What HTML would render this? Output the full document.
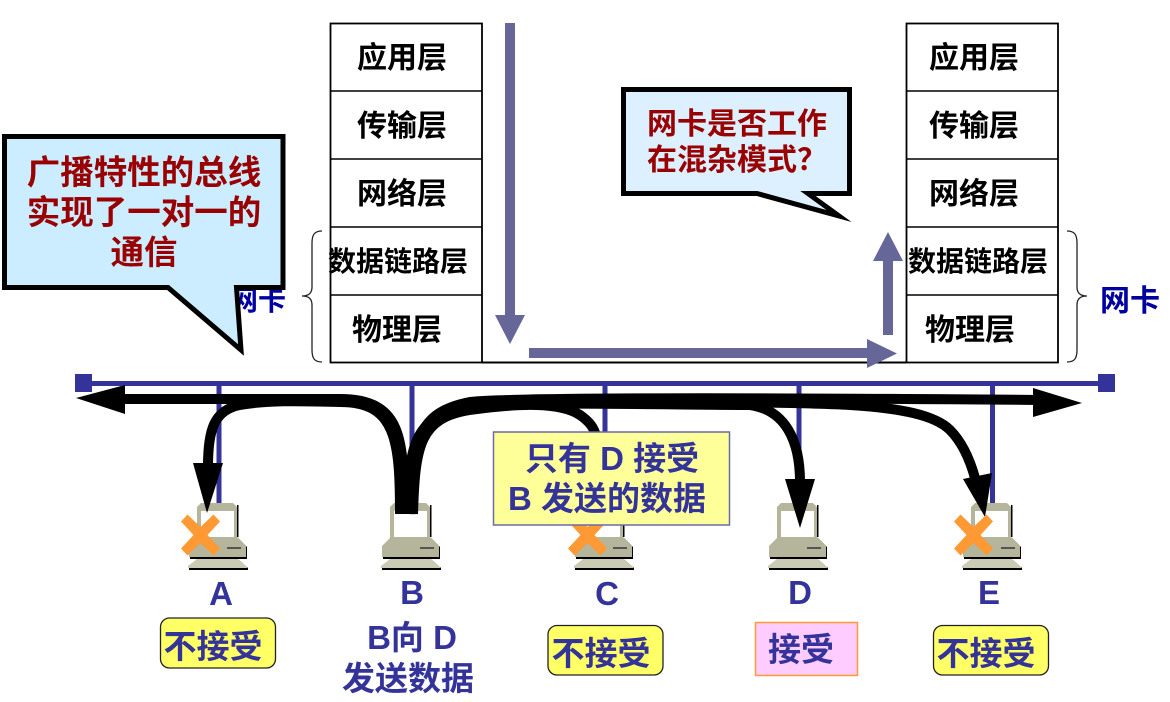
<!DOCTYPE html>
<html><head><meta charset="utf-8">
<style>
html,body{margin:0;padding:0;background:#fff;width:1170px;height:702px;overflow:hidden}
svg{display:block}
text{font-family:"Liberation Sans","Noto Sans CJK SC",sans-serif;font-weight:bold;text-anchor:middle}
.s{font-size:30px;fill:#000}
.s2{font-size:28px;fill:#000}
.n{font-size:33px;fill:#333399}
.c{font-size:33.500px;fill:#990000}
.d{font-size:30px;fill:#990000}
.l{font-size:33px;fill:#333399}
</style></head><body>
<svg width="1170" height="702" viewBox="0 0 1170 702" xmlns="http://www.w3.org/2000/svg">
<defs>
<g id="pc">
<path d="M197 507l4-4h32l4 4v33h-40z" fill="#b5b59b"/>
<rect x="201" y="511" width="33" height="26" fill="#fff"/>
<rect x="237" y="505" width="1.500" height="32" fill="#000"/>
<path d="M189 546l9-9h39l9 9v12h-57z" fill="#000" transform="translate(1,1)"/>
<path d="M189 546l9-9h39l9 9v11h-57z" fill="#b5b59b"/>
<rect x="227" y="547" width="14" height="2" fill="#555"/>
<path d="M188 566l9-7h41l9 8v2h-59z" fill="#000" transform="translate(1,1)"/>
<path d="M188 566l9-7h41l9 8v1h-59z" fill="#cbcbb5"/>
</g>
<path id="x" d="M-13 -20.500L0 -8 13 -20.500 19.500 -13.500 7 0 19.500 13.500 13 20.500 0 8 -13 20.500 -19.500 13.500 -7 0 -19.500 -13.500Z" fill="#ff9933"/>
<path id="b" d="M0 0C-7 0 -10 3 -10 12V56C-10 62 -13 65 -20 65C-13 65 -10 68 -10 74V119C-10 128 -7 131 0 131" fill="none" stroke="#222" stroke-width="1.300"/>
</defs>

<!-- left 网卡 (partly covered) -->
<text x="258" y="310" style="font-size:28px;fill:#0000a0">网卡</text>
<text x="1130" y="311" style="font-size:30px;fill:#0000a0">网卡</text>

<!-- stacks -->
<g fill="#fff" stroke="#000" stroke-width="1.800">
<rect x="330.500" y="23.500" width="151.500" height="339"/>
<rect x="906.500" y="23.500" width="151.500" height="339"/>
</g>
<g stroke="#000" stroke-width="1.500">
<path d="M330 91H482M330 159H482M330 227H482M330 295H482M906 91H1058M906 159H1058M906 227H1058M906 295H1058" fill="none"/>
<path d="M482 362.500H906" stroke-width="2" fill="none"/>
</g>
<text class="s" x="402" y="68">应用层</text>
<text class="s" x="402" y="136">传输层</text>
<text class="s" x="402" y="204">网络层</text>
<text class="s2" x="398" y="271">数据链路层</text>
<text class="s" x="397" y="340">物理层</text>
<text class="s" x="974" y="68">应用层</text>
<text class="s" x="974" y="136">传输层</text>
<text class="s" x="974" y="204">网络层</text>
<text class="s2" x="978" y="271">数据链路层</text>
<text class="s" x="970" y="340">物理层</text>

<use href="#b" x="322" y="231"/>
<use href="#b" transform="translate(1067 231) scale(-1 1)"/>

<!-- flow arrows -->
<g fill="#666699">
<path d="M505 23h10v292h10l-15 29-15-29h10z"/>
<path d="M529 348h338v-9l30 14.500-30 14.500v-10h-338z"/>
<path d="M883 335v-74h-10l15-29 15 29h-10v74z"/>
</g>

<!-- bus -->
<rect x="83" y="381" width="1024" height="5" fill="#333399"/>
<rect x="75" y="374" width="17" height="18" fill="#333399"/>
<rect x="1098" y="374" width="17" height="18" fill="#333399"/>
<g fill="#333399">
<rect x="216.500" y="384" width="5" height="120"/>
<rect x="409.500" y="384" width="5" height="120"/>
<rect x="602.500" y="384" width="5" height="120"/>
<rect x="796.500" y="384" width="5" height="120"/>
<rect x="990" y="384" width="5" height="120"/>
</g>

<!-- computers -->
<use href="#pc"/>
<use href="#pc" x="193"/>
<use href="#pc" x="386"/>
<use href="#pc" x="580"/>
<use href="#pc" x="774"/>

<!-- black arrows -->
<g fill="none" stroke="#000" stroke-width="10">
<path d="M404 514C404 440 403 399 340 399L120 399"/>
<path d="M400 514C400 440 396 402 340 402C300 401 268 400 240 405C214 410 208 430 208 466"/>
<path d="M410 514C412 440 418 412 470 402C520 397 800 398 1040 400"/>
<path d="M413 514C415 445 420 418 470 410C520 403 560 402 580 415C590 422 594 428 596 436"/>
<path d="M407 514C409 440 415 412 480 405C560 402 680 405 750 405C785 410 800 440 800 482"/>
<path d="M410 514C412 440 418 408 480 403C600 400 800 402 850 405C900 408 935 415 950 430C962 442 970 460 975 478"/>
</g>
<g fill="#000">
<path d="M76 398l49-13v29z"/>
<path d="M1082 403l-49-15v29z"/>
<path d="M193 463h30l-16 50z"/>
<path d="M785 479h30l-15 49z"/>
<path d="M963 479l29-6-7 44z"/>
</g>

<use href="#x" x="200.500" y="535"/>
<use href="#x" x="587.500" y="535"/>
<use href="#x" x="973.500" y="535"/>

<!-- yellow note -->
<rect x="493.500" y="432" width="236" height="93" fill="#ffff99" stroke="#6a6aa8" stroke-width="1.500"/>
<text class="l" x="612" y="470">只有 D 接受</text>
<text class="l" x="607" y="510">B 发送的数据</text>

<!-- callouts -->
<path d="M4.500 136.500H283V287.500H236.500L241 350L168 287.500H4.500Z" fill="#ccecff" stroke="#000" stroke-width="5" stroke-miterlimit="20"/>
<text class="c" x="144" y="184">广播特性的总线</text>
<text class="c" x="144" y="224">实现了一对一的</text>
<text class="c" x="144" y="264">通信</text>

<path d="M623.500 89.500H849.500V193.500H808L839 216L757 193.500H623.500Z" fill="#ddf0ff" stroke="#000" stroke-width="5" stroke-miterlimit="20"/>
<text class="d" x="737" y="134">网卡是否工作</text>
<text class="d" x="737" y="170">在混杂模式？</text>

<!-- labels -->
<text class="n" x="221" y="605">A</text>
<text class="n" x="412" y="604">B</text>
<text class="n" x="607" y="605">C</text>
<text class="n" x="800" y="604">D</text>
<text class="n" x="989" y="604">E</text>
<text class="n" x="412" y="649">B向 D</text>
<text class="n" x="408" y="690">发送数据</text>

<g fill="#ffff66" stroke="#222" stroke-width="1.300">
<rect x="160.500" y="618" width="115" height="50" rx="9"/>
<rect x="548" y="625.500" width="115" height="49.500" rx="9"/>
<rect x="933.500" y="625.500" width="115" height="49.500" rx="9"/>
</g>
<rect x="755.500" y="622.500" width="102" height="53" fill="#ffccff" stroke="#ff9933" stroke-width="1.500"/>
<text class="n" x="213" y="658">不接受</text>
<text class="n" x="601" y="665">不接受</text>
<text class="n" x="986" y="665">不接受</text>
<text class="n" x="801" y="661">接受</text>
</svg>
</body></html>
